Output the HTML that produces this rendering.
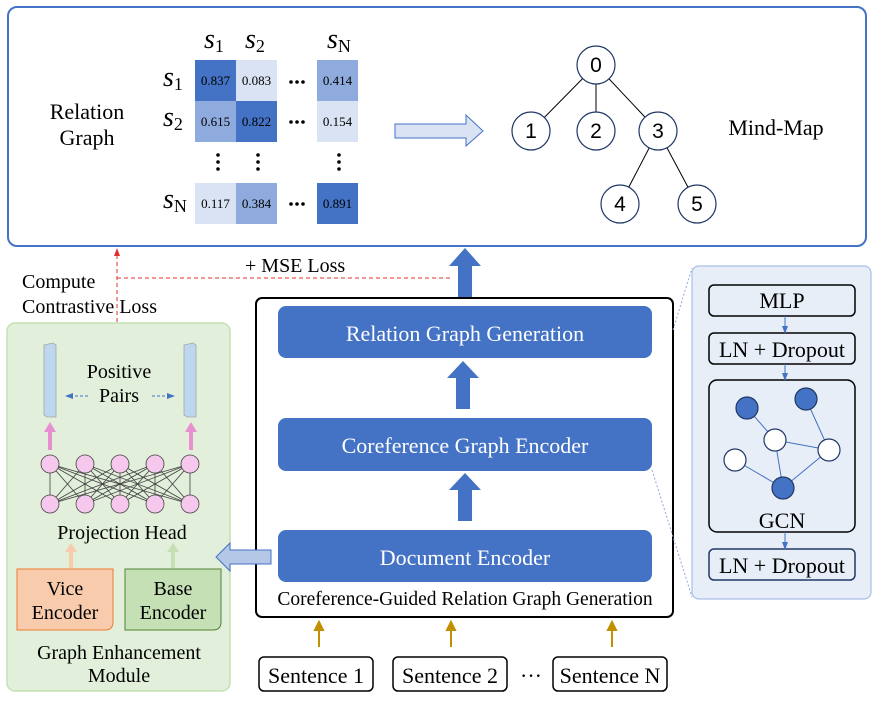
<!DOCTYPE html>
<html><head><meta charset="utf-8"><style>
body{margin:0;background:#fff;width:874px;height:705px;overflow:hidden}
svg{font-family:"Liberation Serif",serif}
text{font-family:"Liberation Serif",serif}
</style></head><body>
<svg width="874" height="705" viewBox="0 0 874 705" xmlns="http://www.w3.org/2000/svg" font-family="Liberation Serif, serif">
<defs>
<marker id="pa" markerWidth="8" markerHeight="8" refX="4" refY="4" orient="auto"><path d="M0,1 L8,4 L0,7 z" fill="#4472c4"/></marker>
<marker id="ra" markerWidth="8" markerHeight="8" refX="4" refY="4" orient="auto"><path d="M0,1 L8,4 L0,7 z" fill="#e03030"/></marker>
</defs>
<!-- top box -->
<rect x="8" y="7" width="858" height="239" rx="9" fill="#fff" stroke="#4472c4" stroke-width="2"/>
<text x="87" y="119" font-size="22" text-anchor="middle">Relation</text>
<text x="87" y="145" font-size="22" text-anchor="middle">Graph</text>
<g font-style="italic" font-size="28">
<text x="204" y="48">s<tspan font-size="18" dy="4" font-style="normal">1</tspan></text>
<text x="245" y="48">s<tspan font-size="18" dy="4" font-style="normal">2</tspan></text>
<text x="327" y="48">s<tspan font-size="18" dy="4" font-style="normal">N</tspan></text>
<text x="163" y="86">s<tspan font-size="18" dy="4" font-style="normal">1</tspan></text>
<text x="163" y="126">s<tspan font-size="18" dy="4" font-style="normal">2</tspan></text>
<text x="163" y="208">s<tspan font-size="18" dy="4" font-style="normal">N</tspan></text>
</g>
<rect x="195" y="60" width="41" height="41" fill="#4472c4"/>
<rect x="236" y="60" width="41" height="41" fill="#dae3f3"/>
<rect x="317" y="60" width="41" height="41" fill="#8faadc"/>
<rect x="195" y="101" width="41" height="41" fill="#8faadc"/>
<rect x="236" y="101" width="41" height="41" fill="#4472c4"/>
<rect x="317" y="101" width="41" height="41" fill="#dae3f3"/>
<rect x="195" y="183" width="41" height="41" fill="#dae3f3"/>
<rect x="236" y="183" width="41" height="41" fill="#8faadc"/>
<rect x="317" y="183" width="41" height="41" fill="#4472c4"/>
<g font-size="13" text-anchor="middle">
<text x="215.5" y="85">0.837</text><text x="256.5" y="85">0.083</text><text x="337.5" y="85">0.414</text>
<text x="215.5" y="126">0.615</text><text x="256.5" y="126">0.822</text><text x="337.5" y="126">0.154</text>
<text x="215.5" y="208">0.117</text><text x="256.5" y="208">0.384</text><text x="337.5" y="208">0.891</text>
</g>
<g fill="#000">
<circle cx="291" cy="82" r="1.8"/><circle cx="297" cy="82" r="1.8"/><circle cx="303" cy="82" r="1.8"/>
<circle cx="291" cy="122" r="1.8"/><circle cx="297" cy="122" r="1.8"/><circle cx="303" cy="122" r="1.8"/>
<circle cx="291" cy="204" r="1.8"/><circle cx="297" cy="204" r="1.8"/><circle cx="303" cy="204" r="1.8"/>
<circle cx="218" cy="155" r="1.8"/><circle cx="218" cy="162" r="1.8"/><circle cx="218" cy="169" r="1.8"/>
<circle cx="258" cy="155" r="1.8"/><circle cx="258" cy="162" r="1.8"/><circle cx="258" cy="169" r="1.8"/>
<circle cx="339" cy="155" r="1.8"/><circle cx="339" cy="162" r="1.8"/><circle cx="339" cy="169" r="1.8"/>
</g>
<path d="M395,124 L466,124 L466,115 L483,131 L466,146 L466,138 L395,138 z" fill="#dae3f3" stroke="#4472c4" stroke-width="1"/>
<g stroke="#000" stroke-width="1">
<line x1="596" y1="65" x2="531" y2="131"/><line x1="596" y1="65" x2="596" y2="131"/><line x1="596" y1="65" x2="658" y2="131"/>
<line x1="658" y1="131" x2="620" y2="204"/><line x1="658" y1="131" x2="697" y2="204"/>
</g>
<g fill="#fff" stroke="#1f3864" stroke-width="1.2">
<circle cx="596" cy="65" r="19"/><circle cx="531" cy="131" r="19"/><circle cx="596" cy="131" r="19"/>
<circle cx="658" cy="131" r="19"/><circle cx="620" cy="204" r="19"/><circle cx="697" cy="204" r="19"/>
</g>
<g font-size="21" text-anchor="middle">
<text x="596" y="72" style="font-family:'Liberation Sans',sans-serif">0</text>
<text x="531" y="138" style="font-family:'Liberation Sans',sans-serif">1</text>
<text x="596" y="138" style="font-family:'Liberation Sans',sans-serif">2</text>
<text x="658" y="138" style="font-family:'Liberation Sans',sans-serif">3</text>
<text x="620" y="211" style="font-family:'Liberation Sans',sans-serif">4</text>
<text x="697" y="211" style="font-family:'Liberation Sans',sans-serif">5</text>
</g>
<text x="776" y="135" font-size="22" text-anchor="middle">Mind-Map</text>

<!-- loss lines -->
<line x1="117" y1="322" x2="117" y2="252" stroke="#e03030" stroke-width="1" stroke-dasharray="4,3" marker-end="url(#ra)"/>
<line x1="117" y1="278" x2="451" y2="278" stroke="#e03030" stroke-width="1" stroke-dasharray="4,3"/>
<text x="245" y="272" font-size="20">+ MSE Loss</text>
<text x="22" y="288" font-size="20">Compute</text>
<text x="22" y="313" font-size="20">Contrastive Loss</text>

<!-- top arrow -->
<path d="M458,298 L458,266 L449,266 L465,248 L481,266 L472,266 L472,298 z" fill="#4472c4"/>

<!-- center -->
<rect x="256" y="298" width="417" height="319" rx="6" fill="#fff" stroke="#000" stroke-width="2"/>
<rect x="278" y="306" width="374" height="52" rx="8" fill="#4472c4"/>
<rect x="278" y="418" width="374" height="53" rx="8" fill="#4472c4"/>
<rect x="278" y="530" width="374" height="52" rx="8" fill="#4472c4"/>
<g fill="#fff" font-size="22" text-anchor="middle">
<text x="465" y="341">Relation Graph Generation</text>
<text x="465" y="453">Coreference Graph Encoder</text>
<text x="465" y="565">Document Encoder</text>
</g>
<path d="M456,409 L456,378 L447,378 L463,361 L479,378 L470,378 L470,409 z" fill="#4472c4"/>
<path d="M458,521 L458,490 L449,490 L465,473 L481,490 L472,490 L472,521 z" fill="#4472c4"/>
<text x="465" y="605" font-size="19.5" text-anchor="middle">Coreference-Guided Relation Graph Generation</text>

<!-- sentences -->
<g stroke="#c09000" stroke-width="2" fill="#c09000">
<line x1="319" y1="647" x2="319" y2="628"/><path d="M315,630 L319,622 L323,630 z"/>
<line x1="451" y1="647" x2="451" y2="628"/><path d="M447,630 L451,622 L455,630 z"/>
<line x1="612" y1="647" x2="612" y2="628"/><path d="M608,630 L612,622 L616,630 z"/>
</g>
<g fill="#fff" stroke="#000" stroke-width="1.5">
<rect x="259" y="657" width="114" height="34" rx="5"/><rect x="393" y="657" width="114" height="34" rx="5"/><rect x="553" y="657" width="114" height="34" rx="5"/>
</g>
<g font-size="22" text-anchor="middle">
<text x="316" y="683">Sentence 1</text><text x="450" y="683">Sentence 2</text><text x="610" y="683">Sentence N</text>
<text x="531" y="683">···</text>
</g>

<!-- right panel -->
<line x1="673" y1="330" x2="692" y2="268" stroke="#8faadc" stroke-dasharray="2,2"/>
<line x1="652" y1="470" x2="692" y2="597" stroke="#8faadc" stroke-dasharray="2,2"/>
<rect x="692" y="266" width="179" height="333" rx="7" fill="#e8eef8" stroke="#a9bfe6" stroke-width="1.2"/>
<g fill="#e8eef8" stroke="#000" stroke-width="1.5">
<rect x="709" y="285" width="146" height="31" rx="5"/>
<rect x="709" y="333" width="146" height="31" rx="5"/>
<rect x="709" y="380" width="146" height="152" rx="8"/>
<rect x="709" y="549" width="146" height="31" rx="5" stroke="#1f3864"/>
</g>
<g stroke="#4472c4" stroke-width="1">
<line x1="785" y1="316" x2="785" y2="330" marker-end="url(#pa)"/>
<line x1="785" y1="364" x2="785" y2="377" marker-end="url(#pa)"/>
<line x1="785" y1="532" x2="785" y2="546" marker-end="url(#pa)"/>
<line x1="747" y1="408" x2="775" y2="440"/><line x1="806" y1="399" x2="829" y2="450"/>
<line x1="775" y1="440" x2="829" y2="450"/><line x1="775" y1="440" x2="783" y2="488"/>
<line x1="735" y1="460" x2="783" y2="488"/><line x1="829" y1="450" x2="783" y2="488"/>
</g>
<g stroke="#1f3864" stroke-width="1.2">
<circle cx="747" cy="408" r="11" fill="#4472c4"/><circle cx="806" cy="399" r="11" fill="#4472c4"/>
<circle cx="775" cy="440" r="11" fill="#fff"/><circle cx="829" cy="450" r="11" fill="#fff"/>
<circle cx="735" cy="460" r="11" fill="#fff"/><circle cx="783" cy="488" r="11" fill="#4472c4"/>
</g>
<g font-size="22" text-anchor="middle">
<text x="782" y="308">MLP</text><text x="782" y="357">LN + Dropout</text>
<text x="782" y="528">GCN</text><text x="782" y="573">LN + Dropout</text>
</g>

<!-- green module -->
<rect x="7" y="323" width="223" height="368" rx="8" fill="#e2efda" stroke="#c5e0b4" stroke-width="1.5"/>
<path d="M44,345 L53,343 L56,345 L56,417 L47,417 L44,415 z" fill="#bdd7ee" stroke="#a6a6a6" stroke-width="0.8"/>
<path d="M184,345 L193,343 L196,345 L196,417 L187,417 L184,415 z" fill="#bdd7ee" stroke="#a6a6a6" stroke-width="0.8"/>
<text x="119" y="378" font-size="20" text-anchor="middle">Positive</text>
<text x="119" y="402" font-size="20" text-anchor="middle">Pairs</text>
<g stroke="#4472c4" stroke-width="1" stroke-dasharray="3,2">
<line x1="88" y1="396" x2="69" y2="396" marker-end="url(#pa)"/>
<line x1="152" y1="396" x2="171" y2="396" marker-end="url(#pa)"/>
</g>
<g fill="#e88fd0">
<rect x="48" y="430" width="4" height="20"/><path d="M44,432 L50,422 L56,432 z"/>
<rect x="189" y="430" width="4" height="20"/><path d="M185,432 L191,422 L197,432 z"/>
</g>
<g stroke="#404040" stroke-width="0.8">
<line x1="50" y1="464" x2="50" y2="504"/><line x1="50" y1="464" x2="85" y2="504"/><line x1="50" y1="464" x2="120" y2="504"/><line x1="50" y1="464" x2="155" y2="504"/><line x1="50" y1="464" x2="190" y2="504"/>
<line x1="85" y1="464" x2="50" y2="504"/><line x1="85" y1="464" x2="85" y2="504"/><line x1="85" y1="464" x2="120" y2="504"/><line x1="85" y1="464" x2="155" y2="504"/><line x1="85" y1="464" x2="190" y2="504"/>
<line x1="120" y1="464" x2="50" y2="504"/><line x1="120" y1="464" x2="85" y2="504"/><line x1="120" y1="464" x2="120" y2="504"/><line x1="120" y1="464" x2="155" y2="504"/><line x1="120" y1="464" x2="190" y2="504"/>
<line x1="155" y1="464" x2="50" y2="504"/><line x1="155" y1="464" x2="85" y2="504"/><line x1="155" y1="464" x2="120" y2="504"/><line x1="155" y1="464" x2="155" y2="504"/><line x1="155" y1="464" x2="190" y2="504"/>
<line x1="190" y1="464" x2="50" y2="504"/><line x1="190" y1="464" x2="85" y2="504"/><line x1="190" y1="464" x2="120" y2="504"/><line x1="190" y1="464" x2="155" y2="504"/><line x1="190" y1="464" x2="190" y2="504"/>
</g>
<g fill="#f6c8ee" stroke="#404040" stroke-width="0.8">
<circle cx="50" cy="464" r="9"/><circle cx="85" cy="464" r="9"/><circle cx="120" cy="464" r="9"/><circle cx="155" cy="464" r="9"/><circle cx="190" cy="464" r="9"/>
<circle cx="50" cy="504" r="9"/><circle cx="85" cy="504" r="9"/><circle cx="120" cy="504" r="9"/><circle cx="155" cy="504" r="9"/><circle cx="190" cy="504" r="9"/>
</g>
<text x="122" y="539" font-size="20" text-anchor="middle">Projection Head</text>
<rect x="69" y="550" width="4" height="18" fill="#f8cbad"/><path d="M65,552 L71,543 L77,552 z" fill="#f8cbad"/>
<rect x="171" y="550" width="4" height="18" fill="#c5e0b4"/><path d="M167,552 L173,543 L179,552 z" fill="#c5e0b4"/>
<path d="M17,569 L113,569 L113,622 Q113,630 105,630 L17,630 z" fill="#f8cbad" stroke="#ed7d31" stroke-width="1"/>
<path d="M125,569 L221,569 L221,622 Q221,630 213,630 L125,630 z" fill="#c5e0b4" stroke="#548235" stroke-width="1"/>
<g font-size="20" text-anchor="middle">
<text x="65" y="595">Vice</text><text x="65" y="619">Encoder</text>
<text x="173" y="595">Base</text><text x="173" y="619">Encoder</text>
<text x="119" y="659">Graph Enhancement</text><text x="119" y="682">Module</text>
</g>
<!-- left arrow -->
<path d="M271,550 L230,550 L230,543 L216,557 L230,571 L230,564 L271,564 z" fill="#b4c7e7" stroke="#4472c4" stroke-width="1"/>
</svg>
</body></html>
